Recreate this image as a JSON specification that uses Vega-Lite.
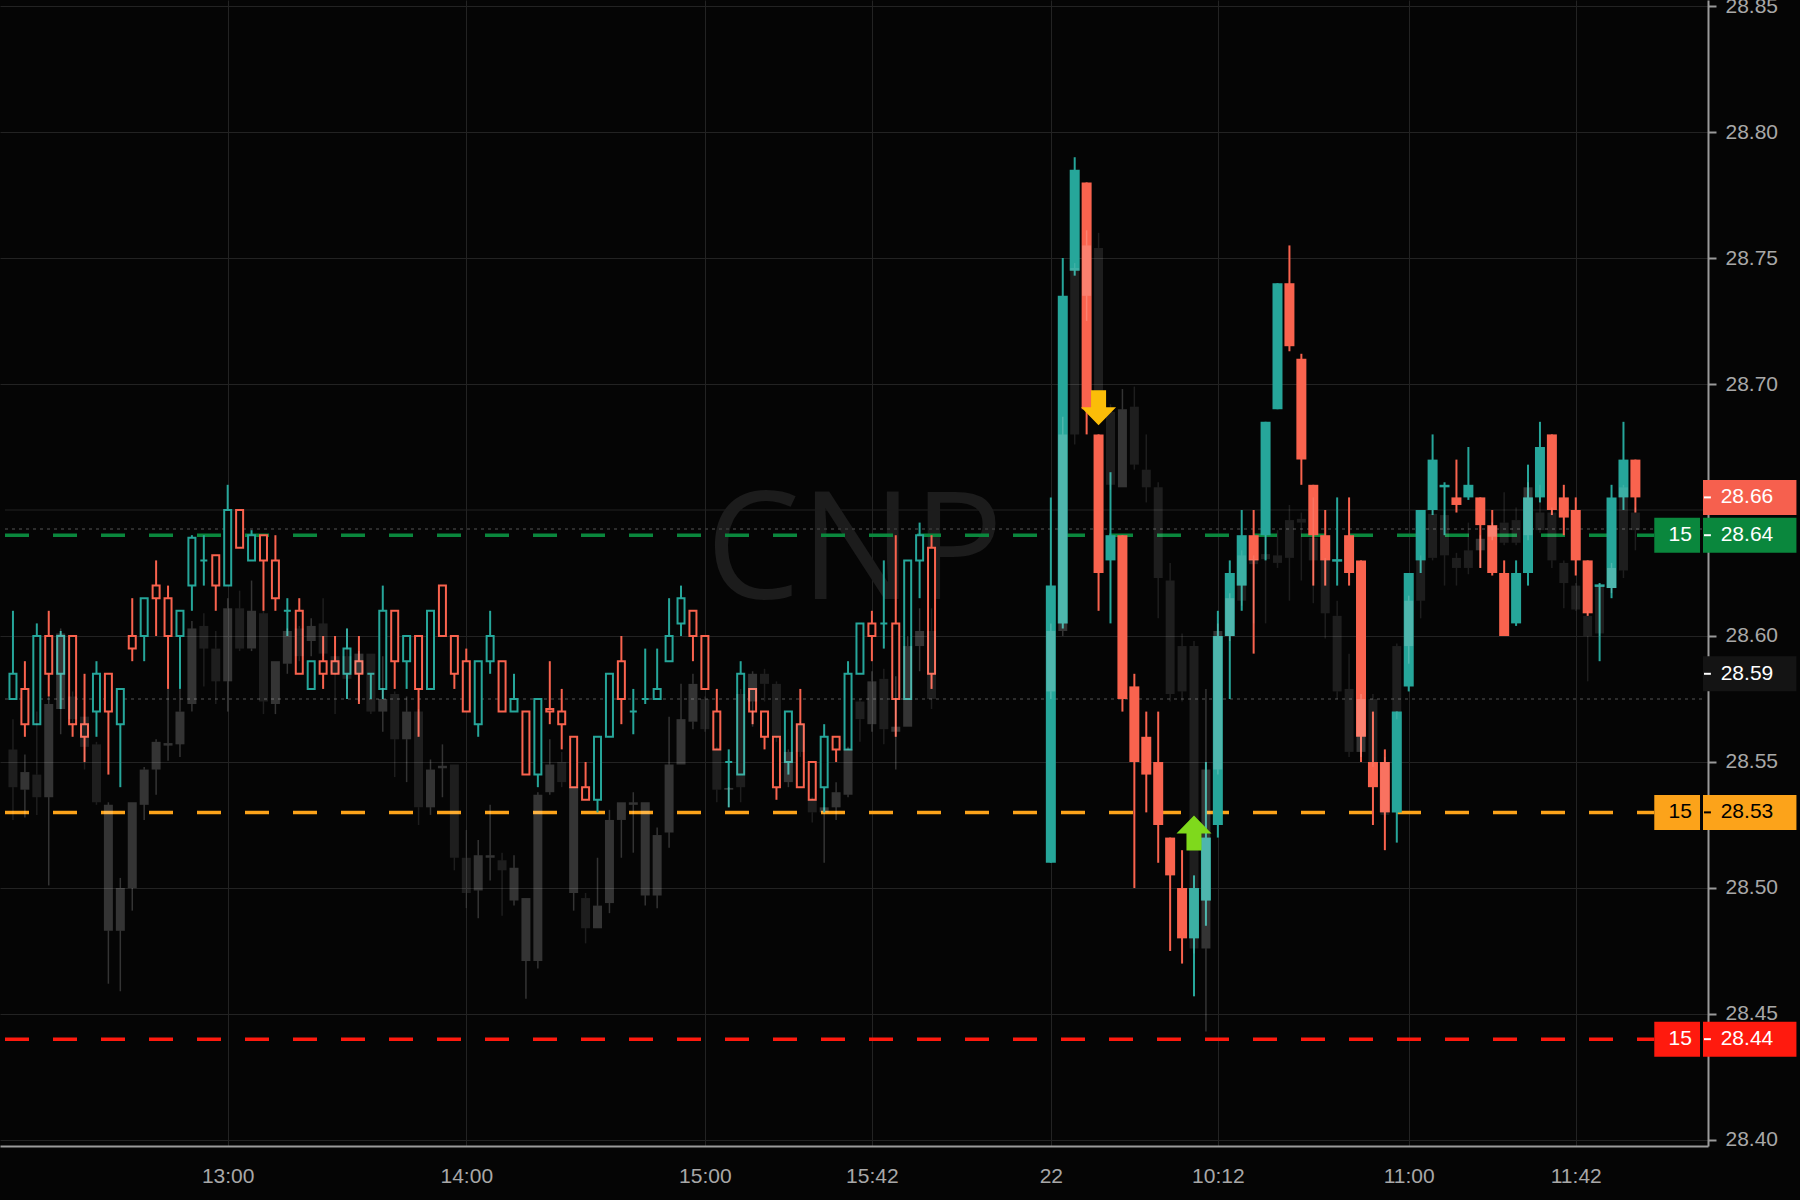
{
"$schema":"https://vega.github.io/schema/vega-lite/v6.json",
"width":1708,"height":1146,
"autosize":{"type":"none"},
"padding":{"left":0,"top":0,"right":92,"bottom":54},
"background":"#050505",
"config":{"view":{"stroke":null}},
"datasets":{
"c":[
{"i":0,"d":21,"o":28.575,"h":28.61,"l":28.575,"c":28.585,"gt":28.555,"gb":28.540,"gh":28.567,"gl":28.527,"gu":0},
{"i":1,"d":21,"o":28.579,"h":28.59,"l":28.56,"c":28.565,"gt":28.546,"gb":28.539,"gh":28.553,"gl":28.528,"gu":1},
{"i":2,"d":21,"o":28.565,"h":28.605,"l":28.565,"c":28.6,"gt":28.545,"gb":28.536,"gh":28.57,"gl":28.529,"gu":0},
{"i":3,"d":21,"o":28.6,"h":28.61,"l":28.576,"c":28.585,"gt":28.573,"gb":28.536,"gh":28.576,"gl":28.501,"gu":1},
{"i":4,"d":21,"o":28.585,"h":28.602,"l":28.571,"c":28.6,"gt":28.601,"gb":28.571,"gh":28.603,"gl":28.561,"gu":1},
{"i":5,"d":21,"o":28.6,"h":28.6,"l":28.56,"c":28.565,"gt":28.576,"gb":28.567,"gh":28.578,"gl":28.565,"gu":0},
{"i":6,"d":21,"o":28.565,"h":28.585,"l":28.55,"c":28.56,"gt":28.568,"gb":28.556,"gh":28.568,"gl":28.547,"gu":0},
{"i":7,"d":21,"o":28.57,"h":28.59,"l":28.56,"c":28.585,"gt":28.557,"gb":28.534,"gh":28.558,"gl":28.533,"gu":0},
{"i":8,"d":21,"o":28.585,"h":28.585,"l":28.545,"c":28.57,"gt":28.533,"gb":28.483,"gh":28.534,"gl":28.462,"gu":1},
{"i":9,"d":21,"o":28.565,"h":28.579,"l":28.54,"c":28.579,"gt":28.5,"gb":28.483,"gh":28.504,"gl":28.459,"gu":1},
{"i":10,"d":21,"o":28.6,"h":28.615,"l":28.59,"c":28.595,"gt":28.534,"gb":28.5,"gh":28.534,"gl":28.491,"gu":1},
{"i":11,"d":21,"o":28.6,"h":28.615,"l":28.59,"c":28.615,"gt":28.547,"gb":28.533,"gh":28.548,"gl":28.527,"gu":1},
{"i":12,"d":21,"o":28.62,"h":28.63,"l":28.6,"c":28.615,"gt":28.558,"gb":28.547,"gh":28.559,"gl":28.537,"gu":1},
{"i":13,"d":21,"o":28.615,"h":28.62,"l":28.579,"c":28.6,"gt":28.5575,"gb":28.5565,"gh":28.579,"gl":28.5505,"gu":1},
{"i":14,"d":21,"o":28.6,"h":28.61,"l":28.579,"c":28.61,"gt":28.57,"gb":28.557,"gh":28.579,"gl":28.552,"gu":1},
{"i":15,"d":21,"o":28.62,"h":28.64,"l":28.61,"c":28.639,"gt":28.603,"gb":28.573,"gh":28.606,"gl":28.57,"gu":1},
{"i":16,"d":21,"o":28.63,"h":28.64,"l":28.62,"c":28.63,"gt":28.604,"gb":28.595,"gh":28.609,"gl":28.58,"gu":0},
{"i":17,"d":21,"o":28.632,"h":28.632,"l":28.61,"c":28.62,"gt":28.595,"gb":28.582,"gh":28.602,"gl":28.573,"gu":0},
{"i":18,"d":21,"o":28.62,"h":28.66,"l":28.62,"c":28.65,"gt":28.611,"gb":28.582,"gh":28.615,"gl":28.57,"gu":1},
{"i":19,"d":21,"o":28.65,"h":28.65,"l":28.635,"c":28.635,"gt":28.611,"gb":28.595,"gh":28.618,"gl":28.594,"gu":0},
{"i":20,"d":21,"o":28.63,"h":28.642,"l":28.63,"c":28.64,"gt":28.61,"gb":28.595,"gh":28.622,"gl":28.594,"gu":1},
{"i":21,"d":21,"o":28.64,"h":28.64,"l":28.61,"c":28.63,"gt":28.609,"gb":28.574,"gh":28.61,"gl":28.569,"gu":0},
{"i":22,"d":21,"o":28.63,"h":28.64,"l":28.61,"c":28.615,"gt":28.59,"gb":28.573,"gh":28.59,"gl":28.569,"gu":1},
{"i":23,"d":21,"o":28.61,"h":28.615,"l":28.6,"c":28.61,"gt":28.602,"gb":28.589,"gh":28.603,"gl":28.585,"gu":1},
{"i":24,"d":21,"o":28.61,"h":28.615,"l":28.585,"c":28.585,"gt":28.603,"gb":28.592,"gh":28.604,"gl":28.59,"gu":0},
{"i":25,"d":21,"o":28.579,"h":28.59,"l":28.579,"c":28.59,"gt":28.604,"gb":28.598,"gh":28.607,"gl":28.592,"gu":1},
{"i":26,"d":21,"o":28.59,"h":28.6,"l":28.579,"c":28.585,"gt":28.605,"gb":28.593,"gh":28.615,"gl":28.592,"gu":0},
{"i":27,"d":21,"o":28.59,"h":28.6,"l":28.585,"c":28.585,"gt":28.592,"gb":28.585,"gh":28.592,"gl":28.569,"gu":0},
{"i":28,"d":21,"o":28.585,"h":28.603,"l":28.575,"c":28.595,"gt":28.592,"gb":28.583,"gh":28.603,"gl":28.575,"gu":0},
{"i":29,"d":21,"o":28.59,"h":28.6,"l":28.573,"c":28.585,"gt":28.593,"gb":28.585,"gh":28.594,"gl":28.574,"gu":1},
{"i":30,"d":21,"o":28.585,"h":28.585,"l":28.575,"c":28.585,"gt":28.593,"gb":28.57,"gh":28.593,"gl":28.569,"gu":0},
{"i":31,"d":21,"o":28.579,"h":28.62,"l":28.575,"c":28.61,"gt":28.575,"gb":28.57,"gh":28.592,"gl":28.562,"gu":1},
{"i":32,"d":21,"o":28.61,"h":28.61,"l":28.579,"c":28.59,"gt":28.577,"gb":28.559,"gh":28.578,"gl":28.544,"gu":0},
{"i":33,"d":21,"o":28.59,"h":28.6,"l":28.579,"c":28.6,"gt":28.57,"gb":28.559,"gh":28.576,"gl":28.542,"gu":1},
{"i":34,"d":21,"o":28.6,"h":28.6,"l":28.56,"c":28.579,"gt":28.57,"gb":28.532,"gh":28.571,"gl":28.525,"gu":0},
{"i":35,"d":21,"o":28.579,"h":28.61,"l":28.579,"c":28.61,"gt":28.547,"gb":28.532,"gh":28.551,"gl":28.529,"gu":1},
{"i":36,"d":21,"o":28.62,"h":28.62,"l":28.6,"c":28.6,"gt":28.5485,"gb":28.5475,"gh":28.557,"gl":28.536,"gu":1},
{"i":37,"d":21,"o":28.6,"h":28.6,"l":28.579,"c":28.585,"gt":28.549,"gb":28.512,"gh":28.549,"gl":28.507,"gu":0},
{"i":38,"d":21,"o":28.59,"h":28.595,"l":28.57,"c":28.57,"gt":28.512,"gb":28.498,"gh":28.523,"gl":28.492,"gu":0},
{"i":39,"d":21,"o":28.565,"h":28.59,"l":28.56,"c":28.59,"gt":28.513,"gb":28.499,"gh":28.519,"gl":28.488,"gu":1},
{"i":40,"d":21,"o":28.59,"h":28.61,"l":28.585,"c":28.6,"gt":28.513,"gb":28.512,"gh":28.533,"gl":28.503,"gu":1},
{"i":41,"d":21,"o":28.59,"h":28.59,"l":28.57,"c":28.57,"gt":28.511,"gb":28.507,"gh":28.514,"gl":28.489,"gu":0},
{"i":42,"d":21,"o":28.57,"h":28.585,"l":28.57,"c":28.575,"gt":28.508,"gb":28.495,"gh":28.513,"gl":28.493,"gu":1},
{"i":43,"d":21,"o":28.57,"h":28.57,"l":28.545,"c":28.545,"gt":28.496,"gb":28.471,"gh":28.496,"gl":28.456,"gu":1},
{"i":44,"d":21,"o":28.545,"h":28.575,"l":28.54,"c":28.575,"gt":28.537,"gb":28.471,"gh":28.538,"gl":28.468,"gu":1},
{"i":45,"d":21,"o":28.571,"h":28.59,"l":28.565,"c":28.57,"gt":28.549,"gb":28.538,"gh":28.559,"gl":28.537,"gu":1},
{"i":46,"d":21,"o":28.57,"h":28.579,"l":28.555,"c":28.565,"gt":28.55,"gb":28.542,"gh":28.554,"gl":28.54,"gu":0},
{"i":47,"d":21,"o":28.56,"h":28.56,"l":28.54,"c":28.54,"gt":28.54,"gb":28.498,"gh":28.54,"gl":28.491,"gu":1},
{"i":48,"d":21,"o":28.54,"h":28.55,"l":28.535,"c":28.535,"gt":28.496,"gb":28.484,"gh":28.498,"gl":28.478,"gu":0},
{"i":49,"d":21,"o":28.535,"h":28.56,"l":28.53,"c":28.56,"gt":28.493,"gb":28.484,"gh":28.512,"gl":28.484,"gu":1},
{"i":50,"d":21,"o":28.56,"h":28.585,"l":28.56,"c":28.585,"gt":28.527,"gb":28.494,"gh":28.531,"gl":28.49,"gu":1},
{"i":51,"d":21,"o":28.59,"h":28.6,"l":28.565,"c":28.575,"gt":28.534,"gb":28.527,"gh":28.534,"gl":28.512,"gu":1},
{"i":52,"d":21,"o":28.57,"h":28.579,"l":28.561,"c":28.57,"gt":28.534,"gb":28.533,"gh":28.538,"gl":28.514,"gu":1},
{"i":53,"d":21,"o":28.575,"h":28.595,"l":28.573,"c":28.575,"gt":28.534,"gb":28.497,"gh":28.534,"gl":28.493,"gu":1},
{"i":54,"d":21,"o":28.575,"h":28.595,"l":28.575,"c":28.579,"gt":28.521,"gb":28.497,"gh":28.524,"gl":28.492,"gu":1},
{"i":55,"d":21,"o":28.59,"h":28.615,"l":28.59,"c":28.6,"gt":28.549,"gb":28.522,"gh":28.568,"gl":28.516,"gu":1},
{"i":56,"d":21,"o":28.605,"h":28.62,"l":28.6,"c":28.615,"gt":28.567,"gb":28.549,"gh":28.581,"gl":28.549,"gu":1},
{"i":57,"d":21,"o":28.61,"h":28.61,"l":28.59,"c":28.6,"gt":28.581,"gb":28.566,"gh":28.585,"gl":28.563,"gu":1},
{"i":58,"d":21,"o":28.6,"h":28.6,"l":28.579,"c":28.579,"gt":28.575,"gb":28.563,"gh":28.576,"gl":28.562,"gu":0},
{"i":59,"d":21,"o":28.57,"h":28.579,"l":28.555,"c":28.555,"gt":28.555,"gb":28.539,"gh":28.556,"gl":28.534,"gu":0},
{"i":60,"d":21,"o":28.55,"h":28.555,"l":28.532,"c":28.55,"gt":28.5397,"gb":28.539,"gh":28.54,"gl":28.532,"gu":1},
{"i":61,"d":21,"o":28.545,"h":28.59,"l":28.545,"c":28.585,"gt":28.577,"gb":28.54,"gh":28.579,"gl":28.534,"gu":0},
{"i":62,"d":21,"o":28.579,"h":28.579,"l":28.565,"c":28.57,"gt":28.585,"gb":28.574,"gh":28.586,"gl":28.564,"gu":1},
{"i":63,"d":21,"o":28.57,"h":28.57,"l":28.555,"c":28.56,"gt":28.585,"gb":28.581,"gh":28.587,"gl":28.574,"gu":0},
{"i":64,"d":21,"o":28.56,"h":28.56,"l":28.535,"c":28.54,"gt":28.581,"gb":28.56,"gh":28.582,"gl":28.558,"gu":0},
{"i":65,"d":21,"o":28.55,"h":28.57,"l":28.545,"c":28.57,"gt":28.554,"gb":28.542,"gh":28.555,"gl":28.54,"gu":1},
{"i":66,"d":21,"o":28.565,"h":28.579,"l":28.54,"c":28.54,"gt":28.565,"gb":28.554,"gh":28.566,"gl":28.552,"gu":0},
{"i":67,"d":21,"o":28.55,"h":28.55,"l":28.535,"c":28.535,"gt":28.535,"gb":28.53,"gh":28.536,"gl":28.526,"gu":0},
{"i":68,"d":21,"o":28.54,"h":28.565,"l":28.53,"c":28.56,"gt":28.532,"gb":28.53,"gh":28.532,"gl":28.51,"gu":1},
{"i":69,"d":21,"o":28.56,"h":28.56,"l":28.55,"c":28.555,"gt":28.538,"gb":28.532,"gh":28.542,"gl":28.527,"gu":1},
{"i":70,"d":21,"o":28.555,"h":28.59,"l":28.555,"c":28.585,"gt":28.555,"gb":28.537,"gh":28.556,"gl":28.536,"gu":1},
{"i":71,"d":21,"o":28.585,"h":28.605,"l":28.585,"c":28.605,"gt":28.574,"gb":28.567,"gh":28.575,"gl":28.558,"gu":0},
{"i":72,"d":21,"o":28.605,"h":28.61,"l":28.59,"c":28.6,"gt":28.582,"gb":28.565,"gh":28.586,"gl":28.562,"gu":1},
{"i":73,"d":21,"o":28.605,"h":28.63,"l":28.595,"c":28.605,"gt":28.583,"gb":28.563,"gh":28.587,"gl":28.557,"gu":0},
{"i":74,"d":21,"o":28.605,"h":28.64,"l":28.56,"c":28.575,"gt":28.564,"gb":28.562,"gh":28.584,"gl":28.547,"gu":1},
{"i":75,"d":21,"o":28.575,"h":28.63,"l":28.575,"c":28.63,"gt":28.596,"gb":28.564,"gh":28.6,"gl":28.564,"gu":1},
{"i":76,"d":21,"o":28.63,"h":28.645,"l":28.615,"c":28.64,"gt":28.602,"gb":28.596,"gh":28.611,"gl":28.586,"gu":1},
{"i":77,"d":21,"o":28.635,"h":28.64,"l":28.579,"c":28.585,"gt":28.602,"gb":28.575,"gh":28.611,"gl":28.571,"gu":0},
{"i":87,"d":22,"o":28.51,"h":28.655,"l":28.51,"c":28.62,"gt":28.602,"gb":28.578,"gh":28.605,"gl":28.575,"gu":1},
{"i":88,"d":22,"o":28.605,"h":28.75,"l":28.603,"c":28.735,"gt":28.68,"gb":28.602,"gh":28.687,"gl":28.6,"gu":1},
{"i":89,"d":22,"o":28.745,"h":28.79,"l":28.743,"c":28.785,"gt":28.746,"gb":28.68,"gh":28.748,"gl":28.676,"gu":0},
{"i":90,"d":22,"o":28.78,"h":28.78,"l":28.68,"c":28.69,"gt":28.755,"gb":28.735,"gh":28.761,"gl":28.725,"gu":1},
{"i":91,"d":22,"o":28.68,"h":28.68,"l":28.61,"c":28.625,"gt":28.754,"gb":28.69,"gh":28.76,"gl":28.685,"gu":0},
{"i":92,"d":22,"o":28.63,"h":28.665,"l":28.605,"c":28.64,"gt":28.689,"gb":28.66,"gh":28.692,"gl":28.658,"gu":0},
{"i":93,"d":22,"o":28.64,"h":28.64,"l":28.57,"c":28.575,"gt":28.69,"gb":28.659,"gh":28.698,"gl":28.659,"gu":1},
{"i":94,"d":22,"o":28.58,"h":28.585,"l":28.5,"c":28.55,"gt":28.691,"gb":28.668,"gh":28.699,"gl":28.666,"gu":0},
{"i":95,"d":22,"o":28.56,"h":28.57,"l":28.53,"c":28.545,"gt":28.666,"gb":28.659,"gh":28.68,"gl":28.653,"gu":0},
{"i":96,"d":22,"o":28.55,"h":28.57,"l":28.51,"c":28.525,"gt":28.659,"gb":28.623,"gh":28.661,"gl":28.607,"gu":0},
{"i":97,"d":22,"o":28.52,"h":28.52,"l":28.475,"c":28.505,"gt":28.622,"gb":28.577,"gh":28.629,"gl":28.574,"gu":0},
{"i":98,"d":22,"o":28.5,"h":28.515,"l":28.47,"c":28.48,"gt":28.596,"gb":28.578,"gh":28.601,"gl":28.574,"gu":0},
{"i":99,"d":22,"o":28.48,"h":28.505,"l":28.457,"c":28.5,"gt":28.596,"gb":28.476,"gh":28.598,"gl":28.474,"gu":0},
{"i":100,"d":22,"o":28.495,"h":28.55,"l":28.485,"c":28.52,"gt":28.547,"gb":28.476,"gh":28.579,"gl":28.443,"gu":1},
{"i":101,"d":22,"o":28.525,"h":28.61,"l":28.52,"c":28.6,"gt":28.602,"gb":28.547,"gh":28.605,"gl":28.545,"gu":1},
{"i":102,"d":22,"o":28.6,"h":28.63,"l":28.575,"c":28.625,"gt":28.615,"gb":28.6,"gh":28.617,"gl":28.598,"gu":1},
{"i":103,"d":22,"o":28.62,"h":28.65,"l":28.61,"c":28.64,"gt":28.632,"gb":28.614,"gh":28.634,"gl":28.612,"gu":0},
{"i":104,"d":22,"o":28.64,"h":28.65,"l":28.593,"c":28.63,"gt":28.6305,"gb":28.6285,"gh":28.632,"gl":28.605,"gu":0},
{"i":105,"d":22,"o":28.64,"h":28.685,"l":28.63,"c":28.685,"gt":28.6325,"gb":28.6305,"gh":28.64,"gl":28.605,"gu":0},
{"i":106,"d":22,"o":28.69,"h":28.74,"l":28.69,"c":28.74,"gt":28.632,"gb":28.629,"gh":28.642,"gl":28.627,"gu":0},
{"i":107,"d":22,"o":28.74,"h":28.755,"l":28.713,"c":28.715,"gt":28.646,"gb":28.631,"gh":28.652,"gl":28.614,"gu":0},
{"i":108,"d":22,"o":28.71,"h":28.712,"l":28.66,"c":28.67,"gt":28.6465,"gb":28.645,"gh":28.649,"gl":28.622,"gu":0},
{"i":109,"d":22,"o":28.66,"h":28.66,"l":28.62,"c":28.64,"gt":28.639,"gb":28.63,"gh":28.655,"gl":28.613,"gu":0},
{"i":110,"d":22,"o":28.64,"h":28.65,"l":28.62,"c":28.63,"gt":28.63,"gb":28.609,"gh":28.631,"gl":28.599,"gu":0},
{"i":111,"d":22,"o":28.6295,"h":28.655,"l":28.62,"c":28.6305,"gt":28.608,"gb":28.578,"gh":28.614,"gl":28.575,"gu":0},
{"i":112,"d":22,"o":28.64,"h":28.655,"l":28.62,"c":28.625,"gt":28.579,"gb":28.554,"gh":28.593,"gl":28.552,"gu":0},
{"i":113,"d":22,"o":28.63,"h":28.63,"l":28.55,"c":28.56,"gt":28.575,"gb":28.554,"gh":28.577,"gl":28.552,"gu":1},
{"i":114,"d":22,"o":28.55,"h":28.57,"l":28.525,"c":28.54,"gt":28.575,"gb":28.55,"gh":28.577,"gl":28.548,"gu":0},
{"i":115,"d":22,"o":28.55,"h":28.555,"l":28.515,"c":28.53,"gt":28.55,"gb":28.529,"gh":28.552,"gl":28.527,"gu":0},
{"i":116,"d":22,"o":28.53,"h":28.57,"l":28.518,"c":28.57,"gt":28.596,"gb":28.57,"gh":28.597,"gl":28.567,"gu":0},
{"i":117,"d":22,"o":28.58,"h":28.625,"l":28.578,"c":28.625,"gt":28.614,"gb":28.596,"gh":28.616,"gl":28.589,"gu":1},
{"i":118,"d":22,"o":28.63,"h":28.65,"l":28.625,"c":28.65,"gt":28.63,"gb":28.614,"gh":28.632,"gl":28.607,"gu":0},
{"i":119,"d":22,"o":28.65,"h":28.68,"l":28.648,"c":28.67,"gt":28.6485,"gb":28.631,"gh":28.65,"gl":28.63,"gu":0},
{"i":120,"d":22,"o":28.659,"h":28.661,"l":28.64,"c":28.66,"gt":28.648,"gb":28.632,"gh":28.65,"gl":28.62,"gu":0},
{"i":121,"d":22,"o":28.655,"h":28.67,"l":28.649,"c":28.652,"gt":28.631,"gb":28.627,"gh":28.633,"gl":28.62,"gu":0},
{"i":122,"d":22,"o":28.655,"h":28.675,"l":28.654,"c":28.66,"gt":28.634,"gb":28.627,"gh":28.645,"gl":28.6245,"gu":0},
{"i":123,"d":22,"o":28.655,"h":28.655,"l":28.627,"c":28.644,"gt":28.6386,"gb":28.634,"gh":28.64,"gl":28.627,"gu":1},
{"i":124,"d":22,"o":28.644,"h":28.65,"l":28.624,"c":28.625,"gt":28.6436,"gb":28.6394,"gh":28.645,"gl":28.638,"gu":1},
{"i":125,"d":22,"o":28.625,"h":28.63,"l":28.6,"c":28.6,"gt":28.645,"gb":28.637,"gh":28.657,"gl":28.636,"gu":0},
{"i":126,"d":22,"o":28.605,"h":28.63,"l":28.604,"c":28.625,"gt":28.646,"gb":28.637,"gh":28.651,"gl":28.636,"gu":0},
{"i":127,"d":22,"o":28.625,"h":28.668,"l":28.62,"c":28.655,"gt":28.659,"gb":28.64,"gh":28.661,"gl":28.638,"gu":1},
{"i":128,"d":22,"o":28.655,"h":28.685,"l":28.653,"c":28.675,"gt":28.649,"gb":28.642,"gh":28.66,"gl":28.641,"gu":0},
{"i":129,"d":22,"o":28.68,"h":28.68,"l":28.648,"c":28.65,"gt":28.649,"gb":28.63,"gh":28.651,"gl":28.627,"gu":0},
{"i":130,"d":22,"o":28.655,"h":28.66,"l":28.64,"c":28.647,"gt":28.629,"gb":28.621,"gh":28.63,"gl":28.611,"gu":0},
{"i":131,"d":22,"o":28.65,"h":28.655,"l":28.624,"c":28.63,"gt":28.62,"gb":28.6105,"gh":28.621,"gl":28.61,"gu":0},
{"i":132,"d":22,"o":28.63,"h":28.63,"l":28.608,"c":28.609,"gt":28.608,"gb":28.6,"gh":28.61,"gl":28.582,"gu":0},
{"i":133,"d":22,"o":28.6195,"h":28.621,"l":28.59,"c":28.6205,"gt":28.62,"gb":28.601,"gh":28.621,"gl":28.6,"gu":0},
{"i":134,"d":22,"o":28.619,"h":28.66,"l":28.615,"c":28.655,"gt":28.627,"gb":28.619,"gh":28.629,"gl":28.617,"gu":1},
{"i":135,"d":22,"o":28.655,"h":28.685,"l":28.65,"c":28.67,"gt":28.659,"gb":28.626,"gh":28.66,"gl":28.623,"gu":0},
{"i":136,"d":22,"o":28.67,"h":28.67,"l":28.649,"c":28.655,"gt":28.649,"gb":28.642,"gh":28.651,"gl":28.634,"gu":0}
],
"wm":[{"t":"CNP","i":70.54,"p":28.6327}],
"gr":[{"p":28.65}],
"lv":[{"p":28.64,"k":"g"},{"p":28.53,"k":"o"},{"p":28.44,"k":"r"}],
"dt":[{"p":28.6425},{"p":28.575}],
"ar":[{"i":91,"p":28.6906,"k":"dn"},{"i":99,"p":28.5218,"k":"up"}],
"bx":[{"p":28.655,"t":"28.66","k":"last","n":""},{"p":28.64,"t":"28.64","k":"g","n":"15"},{"p":28.585,"t":"28.59","k":"blk","n":""},{"p":28.53,"t":"28.53","k":"o","n":"15"},{"p":28.44,"t":"28.44","k":"r","n":"15"}]
},
"layer":[
{"data":{"name":"gr"},"mark":{"type":"rule","color":"#232323","strokeWidth":1},
 "encoding":{"x":{"datum":-0.667,"type":"quantitative","scale":{"domain":[-0.667,141.667],"nice":false,"zero":false},"axis":{"title":null}},"x2":{"datum":141.667},
 "y":{"field":"p","type":"quantitative","scale":{"domain":[28.3976,28.8524],"nice":false,"zero":false},"axis":{"title":null}}}},
{"data":{"name":"wm"},"mark":{"type":"text","font":"Open Sans","fontSize":150,"color":"#1c1c1c","align":"center","baseline":"middle"},
 "encoding":{"x":{"field":"i","type":"quantitative","scale":{"domain":[-0.667,141.667],"nice":false,"zero":false},"axis":{"title":null}},
 "y":{"field":"p","type":"quantitative","scale":{"domain":[28.3976,28.8524],"nice":false,"zero":false},"axis":{"title":null}},
 "text":{"field":"t"}}},
{"data":{"name":"dt"},"mark":{"type":"rule","color":"#3a3a3a","strokeDash":[3,4],"strokeWidth":1.5},
 "encoding":{"x":{"datum":-0.667,"type":"quantitative","scale":{"domain":[-0.667,141.667],"nice":false,"zero":false},"axis":{"title":null}},"x2":{"datum":141.667},
 "y":{"field":"p","type":"quantitative","scale":{"domain":[28.3976,28.8524],"nice":false,"zero":false},"axis":{"title":null}}}},
{"data":{"name":"lv"},"mark":{"type":"rule","strokeDash":[24,24],"strokeWidth":3.5},
 "encoding":{"x":{"datum":-0.667,"type":"quantitative","scale":{"domain":[-0.667,141.667],"nice":false,"zero":false},"axis":{"title":null}},"x2":{"datum":137.583},
 "y":{"field":"p","type":"quantitative","scale":{"domain":[28.3976,28.8524],"nice":false,"zero":false},"axis":{"title":null}},
 "color":{"field":"k","type":"nominal","scale":{"domain":["g","o","r","last","blk"],"range":["#0a873d","#fca31a","#ff1a0e","#f6604e","#141414"]},"legend":null}}},
{"data":{"name":"c"},"mark":{"type":"rule","strokeWidth":2},
 "encoding":{"x":{"field":"i","type":"quantitative","scale":{"domain":[-0.667,141.667],"nice":false,"zero":false},
   "axis":{"orient":"bottom","values":[18,38,58,72,87,101,117,131],"labelExpr":"datum.value==18?'13:00':datum.value==38?'14:00':datum.value==58?'15:00':datum.value==72?'15:42':datum.value==87?'22':datum.value==101?'10:12':datum.value==117?'11:00':'11:42'","grid":true,"gridColor":"#232323","gridWidth":1,"ticks":false,"domainColor":"#9a9a9a","domainWidth":2,"labelColor":"#a8a8a8","labelFont":"Liberation Sans","labelFontSize":21,"labelPadding":19,"title":null,"labelFlush":false,"labelOverlap":false,"zindex":0}},
 "y":{"field":"l","type":"quantitative","scale":{"domain":[28.3976,28.8524],"nice":false,"zero":false},
   "axis":{"orient":"right","values":[28.4,28.45,28.5,28.55,28.6,28.7,28.75,28.8,28.85],"format":".2f","grid":true,"gridColor":"#232323","gridWidth":1,"tickColor":"#9a9a9a","tickSize":8,"tickWidth":2,"domainColor":"#9a9a9a","domainWidth":2,"labelColor":"#a8a8a8","labelFont":"Liberation Sans","labelFontSize":21,"labelPadding":9,"title":null,"labelOverlap":false,"labelFlush":false,"zindex":0}},
 "y2":{"field":"h"},
 "color":{"condition":{"test":"datum.c>=datum.o","value":"#26a69a"},"value":"#f9634e"}}},
{"data":{"name":"c"},"mark":{"type":"bar"},
 "encoding":{"x":{"field":"i","type":"quantitative","scale":{"domain":[-0.667,141.667],"nice":false,"zero":false},"axis":{"title":null}},
 "y":{"field":"o","type":"quantitative","scale":{"domain":[28.3976,28.8524],"nice":false,"zero":false},"axis":{"title":null}},
 "y2":{"field":"c"},
 "fill":{"condition":[{"test":"datum.d==21","value":"#050505"},{"test":"datum.c>=datum.o","value":"#26a69a"}],"value":"#f9634e"},
 "stroke":{"condition":{"test":"datum.c>=datum.o","value":"#26a69a"},"value":"#f9634e"},
 "strokeWidth":{"condition":{"test":"datum.d==21","value":2},"value":0},
 "size":{"condition":{"test":"datum.d==21","value":7},"value":10}}},
{"data":{"name":"c"},"mark":{"type":"rule","strokeWidth":1.5,"color":"#ffffff"},
 "encoding":{"x":{"field":"i","type":"quantitative","scale":{"domain":[-0.667,141.667],"nice":false,"zero":false},"axis":{"title":null}},
 "y":{"field":"gh","type":"quantitative","scale":{"domain":[28.3976,28.8524],"nice":false,"zero":false},"axis":{"title":null}},
 "y2":{"field":"gt"},
 "opacity":{"condition":{"test":"datum.gu==1","value":0.19},"value":0.1}}},
{"data":{"name":"c"},"mark":{"type":"rule","strokeWidth":1.5,"color":"#ffffff"},
 "encoding":{"x":{"field":"i","type":"quantitative","scale":{"domain":[-0.667,141.667],"nice":false,"zero":false},"axis":{"title":null}},
 "y":{"field":"gb","type":"quantitative","scale":{"domain":[28.3976,28.8524],"nice":false,"zero":false},"axis":{"title":null}},
 "y2":{"field":"gl"},
 "opacity":{"condition":{"test":"datum.gu==1","value":0.19},"value":0.1}}},
{"data":{"name":"c"},"mark":{"type":"bar","fill":"#ffffff"},
 "encoding":{"x":{"field":"i","type":"quantitative","scale":{"domain":[-0.667,141.667],"nice":false,"zero":false},"axis":{"title":null}},
 "y":{"field":"gt","type":"quantitative","scale":{"domain":[28.3976,28.8524],"nice":false,"zero":false},"axis":{"title":null}},
 "y2":{"field":"gb"},
 "size":{"value":9},
 "opacity":{"condition":{"test":"datum.gu==1","value":0.19},"value":0.1}}},
{"data":{"name":"ar"},"mark":{"type":"point","filled":true,"opacity":1,"size":1225},
 "encoding":{"x":{"field":"i","type":"quantitative","scale":{"domain":[-0.667,141.667],"nice":false,"zero":false},"axis":{"title":null}},
 "y":{"field":"p","type":"quantitative","scale":{"domain":[28.3976,28.8524],"nice":false,"zero":false},"axis":{"title":null}},
 "shape":{"field":"k","type":"nominal","scale":{"domain":["dn","up"],"range":["M-0.43,-1L0.43,-1L0.43,-0.02L1,-0.02L0,1L-1,-0.02L-0.43,-0.02Z","M0,-1L1,0.02L0.43,0.02L0.43,1L-0.43,1L-0.43,0.02L-1,0.02Z"]},"legend":null},
 "fill":{"field":"k","type":"nominal","scale":{"domain":["dn","up"],"range":["#fbbd08","#7fd91c"]},"legend":null}}},
{"data":{"name":"bx"},"mark":{"type":"rule","strokeWidth":35,"strokeCap":"butt","clip":false},
 "encoding":{"x":{"datum":141.667,"type":"quantitative","scale":{"domain":[-0.667,141.667],"nice":false,"zero":false},"axis":{"title":null}},"x2":{"datum":149.5},
 "y":{"field":"p","type":"quantitative","scale":{"domain":[28.3976,28.8524],"nice":false,"zero":false},"axis":{"title":null}},
 "color":{"field":"k","type":"nominal","scale":{"domain":["g","o","r","last","blk"],"range":["#0a873d","#fca31a","#ff1a0e","#f6604e","#141414"]},"legend":null}}},
{"data":{"name":"bx"},"transform":[{"filter":"datum.n!=''"}],"mark":{"type":"rule","strokeWidth":35,"strokeCap":"butt","clip":false},
 "encoding":{"x":{"datum":137.583,"type":"quantitative","scale":{"domain":[-0.667,141.667],"nice":false,"zero":false},"axis":{"title":null}},"x2":{"datum":141.417},
 "y":{"field":"p","type":"quantitative","scale":{"domain":[28.3976,28.8524],"nice":false,"zero":false},"axis":{"title":null}},
 "color":{"field":"k","type":"nominal","scale":{"domain":["g","o","r","last","blk"],"range":["#0a873d","#fca31a","#ff1a0e","#f6604e","#141414"]},"legend":null}}},
{"data":{"name":"bx"},"mark":{"type":"rule","strokeWidth":2,"clip":false},
 "encoding":{"x":{"datum":141.75,"type":"quantitative","scale":{"domain":[-0.667,141.667],"nice":false,"zero":false},"axis":{"title":null}},"x2":{"datum":142.33},
 "y":{"field":"p","type":"quantitative","scale":{"domain":[28.3976,28.8524],"nice":false,"zero":false},"axis":{"title":null}},
 "color":{"condition":{"test":"datum.k=='o'","value":"#000000"},"value":"#ffffff"}}},
{"data":{"name":"bx"},"mark":{"type":"text","align":"left","baseline":"middle","font":"Liberation Sans","fontSize":21,"clip":false},
 "encoding":{"x":{"datum":143.15,"type":"quantitative","scale":{"domain":[-0.667,141.667],"nice":false,"zero":false},"axis":{"title":null}},
 "y":{"field":"p","type":"quantitative","scale":{"domain":[28.3976,28.8524],"nice":false,"zero":false},"axis":{"title":null}},
 "text":{"field":"t"},
 "color":{"condition":{"test":"datum.k=='o'","value":"#000000"},"value":"#ffffff"}}},
{"data":{"name":"bx"},"transform":[{"filter":"datum.n!=''"}],"mark":{"type":"text","align":"center","baseline":"middle","font":"Liberation Sans","fontSize":21,"clip":false},
 "encoding":{"x":{"datum":139.75,"type":"quantitative","scale":{"domain":[-0.667,141.667],"nice":false,"zero":false},"axis":{"title":null}},
 "y":{"field":"p","type":"quantitative","scale":{"domain":[28.3976,28.8524],"nice":false,"zero":false},"axis":{"title":null}},
 "text":{"field":"n"},
 "color":{"condition":{"test":"datum.k=='o'","value":"#000000"},"value":"#ffffff"}}}
]
}
